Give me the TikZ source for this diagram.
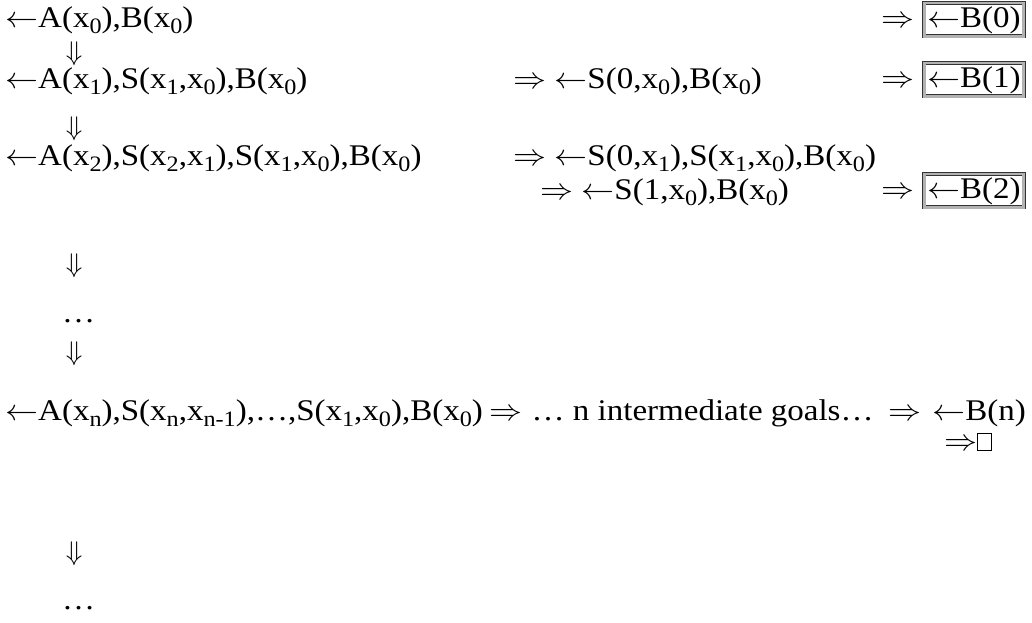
\documentclass[tikz,border=0pt]{standalone}
\usepackage{fontspec}
\setmainfont[FakeStretch=1.1]{Liberation Serif}
\DeclareFontFamily{OMS}{cmsy}{\skewchar\font48 }
\DeclareFontShape{OMS}{cmsy}{m}{n}{<->cmsy10}{}
\newcommand\lo[1]{\raisebox{-0.2em}{\fontsize{22}{22}\selectfont #1}}
\newcommand\la{\scalebox{1.1}[1]{$\leftarrow$}}
\newcommand\ra{\scalebox{1.1}[1]{$\Rightarrow$}}
\newcommand\emptybox{{\setlength\fboxsep{0pt}\setlength\fboxrule{0.7pt}\fbox{\rule{0pt}{16pt}\hspace{13pt}}}}
\begin{document}
\begin{tikzpicture}[x=1pt,y=-1pt,
  txt/.style={anchor=base west,inner sep=0pt,font=\fontsize{30}{34}\selectfont},
  goalbox/.style={txt,draw=black!80,line width=0.6pt,double=gray!60,double distance=2.6pt,inner xsep=3pt,inner ysep=3pt},
  darr/.style={anchor=center,inner sep=0pt,font=\fontsize{27}{30}\selectfont}]
\useasboundingbox (0,0) rectangle (1032,622);
% row 1
\node[txt] (r1) at (5,27) {\la A(x\lo0),B(x\lo0)};
\node[goalbox,anchor=base east] (b0) at (1024,27) {\la B(0)};
\node[txt,anchor=base east] (r1a) at ([xshift=-9pt]b0.base west) {\ra};
\node[darr] (d1) at (74,54) {$\Downarrow$};
% row 2
\node[txt] (r2) at (5,88) {\la A(x\lo1),S(x\lo1,x\lo0),B(x\lo0)};
\node[txt] (r2r) at (513,88) {\ra\ \la S(0,x\lo0),B(x\lo0)};
\node[goalbox,anchor=base east] (b1) at (1024,87) {\la B(1)};
\node[txt,anchor=base east] (r2a) at ([xshift=-9pt]b1.base west) {\ra};
\node[darr] (d2) at (74,129) {$\Downarrow$};
% row 3
\node[txt] (r3) at (5,165) {\la A(x\lo2),S(x\lo2,x\lo1),S(x\lo1,x\lo0),B(x\lo0)};
\node[txt] (r3r) at (513,165) {\ra\ \la S(0,x\lo1),S(x\lo1,x\lo0),B(x\lo0)};
\node[txt] (r3b) at (540,199) {\ra\ \la S(1,x\lo0),B(x\lo0)};
\node[goalbox,anchor=base east] (b2) at (1024,198) {\la B(2)};
\node[txt,anchor=base east] (r3a) at ([xshift=-9pt]b2.base west) {\ra};
\node[darr] (d3) at (74,266) {$\Downarrow$};
\node[txt] (dots1) at (62,322) {…};
\node[darr] (d4) at (74,354) {$\Downarrow$};
% row n
\node[txt] (rn) at (5,420) {\la A(x\lo n),S(x\lo n,x\lo{n-1}),…,S(x\lo1,x\lo0),B(x\lo0)};
\node[txt] (rna) at ([xshift=6pt]rn.base east) {\ra};
\node[txt] (rnm) at ([xshift=9pt]rna.base east) {… n intermediate goals…};
\node[txt,anchor=base east] (bn) at (1026,420) {\la B(n)};
\node[txt,anchor=base east] (rnb) at ([xshift=-10pt]bn.base west) {\ra};
\node[txt,anchor=base east] (emp) at (992,450) {\ra\emptybox};
\node[darr] (d5) at (74,554) {$\Downarrow$};
\node[txt] (dots2) at (62,609) {…};
\end{tikzpicture}
\end{document}
